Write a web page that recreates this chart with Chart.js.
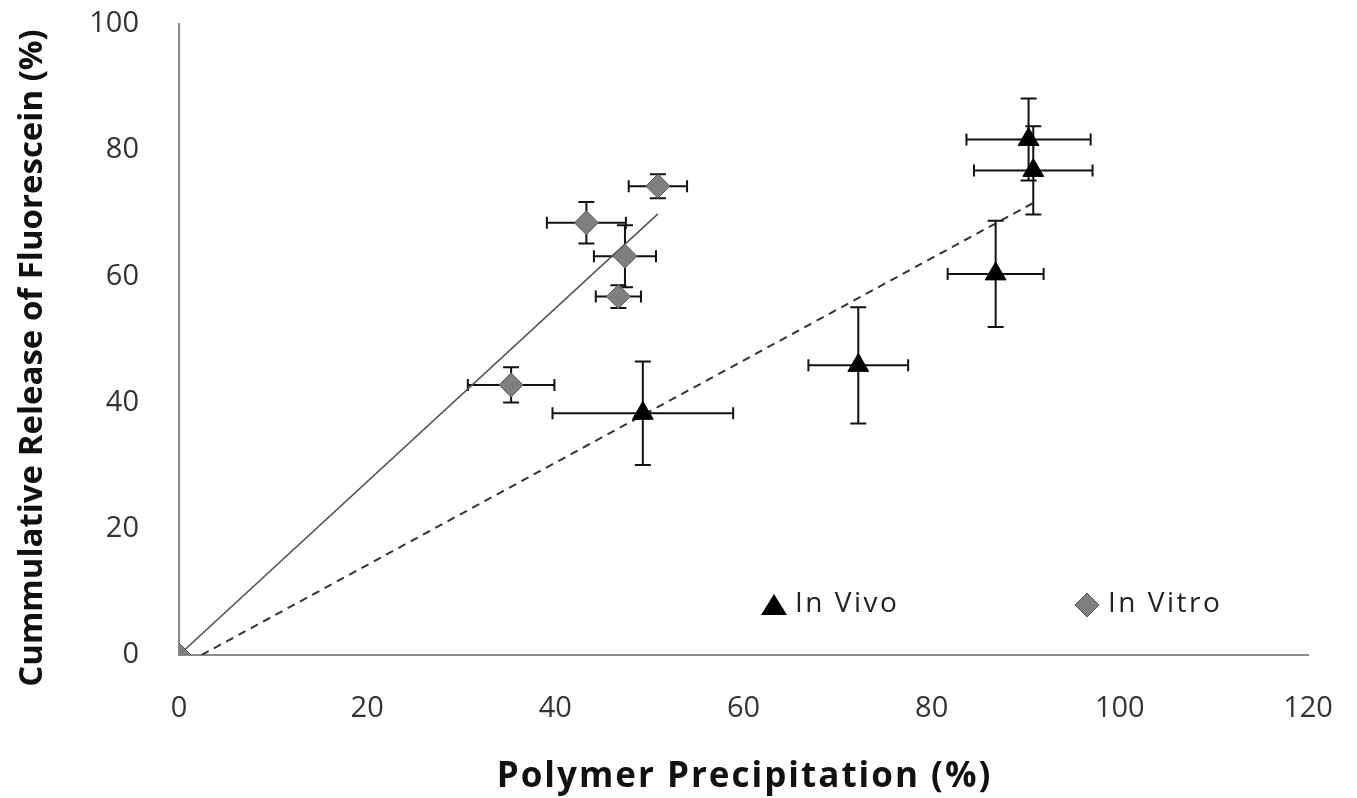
<!DOCTYPE html>
<html>
<head>
<meta charset="utf-8">
<script src="https://cdn.jsdelivr.net/npm/chart.js@4/dist/chart.umd.min.js"></script>
<style>
html,body{margin:0;padding:0;background:#fff;}
#wrap{width:1357px;height:798px;position:relative;}
</style>
</head>
<body>
<div id="wrap"><canvas id="c" width="1357" height="798"></canvas></div>
<script>
// ---- data ----
const xTicks = [0, 20, 40, 60, 80, 100, 120];
const yTicks = [0, 20, 40, 60, 80, 100];

const vivoX    = [0, 49.3, 72.2, 86.8, 90.8, 90.3];
const vivoY    = [0, 38.3, 45.9, 60.4, 76.8, 81.7];
const vivoXErr = [0, 9.6, 5.3, 5.1, 6.3, 6.6];
const vivoYErr = [0, 8.2, 9.2, 8.4, 7.0, 6.5];

const vitroX    = [0, 35.3, 46.7, 47.4, 43.3, 50.9];
const vitroY    = [0, 42.8, 56.8, 63.2, 68.5, 74.3];
const vitroXErr = [0, 4.6, 2.4, 3.3, 4.2, 3.1];
const vitroYErr = [0, 2.8, 1.8, 4.9, 3.3, 1.9];

const vitroTrendX = [0, 50.9];
const vitroTrendY = [0, 69.9];
const vivoTrendX  = [2.4, 91.0];
const vivoTrendY  = [0, 71.8];

const seriesNames = ['In Vivo', 'In Vitro'];
const xTitle = 'Polymer Precipitation (%)';
const yTitle = 'Cummulative Release of Fluorescein (%)';

const zip = (xs, ys) => xs.map((x, i) => ({x: x, y: ys[i]}));

const FONT = "'Open Sans', 'DejaVu Sans', sans-serif";

const errorBarPlugin = {
  id: 'errorBars',
  beforeDatasetsDraw(chart) {
    const ctx = chart.ctx;
    const xs = chart.scales.x, ys = chart.scales.y;
    const sets = [[vivoX, vivoY, vivoXErr, vivoYErr], [vitroX, vitroY, vitroXErr, vitroYErr]];
    ctx.save();
    ctx.strokeStyle = '#111';
    ctx.lineWidth = 2;
    const capV = 8, capH = 6;
    sets.forEach(([X, Y, XE, YE]) => {
      X.forEach((xv, i) => {
        const px = xs.getPixelForValue(xv), py = ys.getPixelForValue(Y[i]);
        if (YE[i] > 0) {
          const t = ys.getPixelForValue(Y[i] + YE[i]), b = ys.getPixelForValue(Y[i] - YE[i]);
          ctx.beginPath();
          ctx.moveTo(px, t); ctx.lineTo(px, b);
          ctx.moveTo(px - capV, t); ctx.lineTo(px + capV, t);
          ctx.moveTo(px - capV, b); ctx.lineTo(px + capV, b);
          ctx.stroke();
        }
        if (XE[i] > 0) {
          const l = xs.getPixelForValue(xv - XE[i]), r = xs.getPixelForValue(xv + XE[i]);
          ctx.beginPath();
          ctx.moveTo(l, py); ctx.lineTo(r, py);
          ctx.moveTo(l, py - capH); ctx.lineTo(l, py + capH);
          ctx.moveTo(r, py - capH); ctx.lineTo(r, py + capH);
          ctx.stroke();
        }
      });
    });
    ctx.restore();
  }
};

const titlesAndLegendPlugin = {
  id: 'titlesAndLegend',
  afterDraw(chart) {
    const ctx = chart.ctx;
    const area = chart.chartArea;
    ctx.save();
    // axis titles
    ctx.fillStyle = '#111';
    ctx.textBaseline = 'alphabetic';
    ctx.textAlign = 'center';
    ctx.font = "bold 35px " + FONT;
    try { ctx.letterSpacing = '2px'; } catch (e) {}
    ctx.fillText(xTitle, (area.left + area.right) / 2 + 1, 787);
    ctx.save();
    ctx.font = "bold 33px " + FONT;
    try { ctx.letterSpacing = '0px'; } catch (e) {}
    ctx.translate(42, 358);
    ctx.rotate(-Math.PI / 2);
    ctx.fillText(yTitle, 0, 0);
    ctx.restore();

    // legend
    ctx.font = "28px " + FONT;
    try { ctx.letterSpacing = '2.5px'; } catch (e) {}
    ctx.textBaseline = 'middle';
    ctx.textAlign = 'left';
    const tx = 774, ty = 606;
    ctx.beginPath();
    ctx.moveTo(tx, ty - 12); ctx.lineTo(tx + 13, ty + 9); ctx.lineTo(tx - 13, ty + 9); ctx.closePath();
    ctx.fillStyle = '#000'; ctx.fill();
    ctx.fillStyle = '#222';
    ctx.fillText(seriesNames[0], 795, 604);
    const dx = 1087, dy = 605;
    ctx.beginPath();
    ctx.moveTo(dx, dy - 12); ctx.lineTo(dx + 12, dy); ctx.lineTo(dx, dy + 12); ctx.lineTo(dx - 12, dy); ctx.closePath();
    ctx.fillStyle = '#7f7f7f'; ctx.fill();
    ctx.strokeStyle = '#5a5a5a'; ctx.lineWidth = 1; ctx.stroke();
    ctx.fillStyle = '#222';
    ctx.fillText(seriesNames[1], 1108, 604);
    ctx.restore();
  }
};

new Chart(document.getElementById('c'), {
  type: 'scatter',
  data: {
    datasets: [
      {
        label: seriesNames[1],
        data: zip(vitroX, vitroY),
        pointStyle: 'rectRot',
        pointRadius: 12,
        pointHoverRadius: 12,
        backgroundColor: '#7f7f7f',
        borderColor: '#5a5a5a',
        borderWidth: 1
      },
      {
        label: seriesNames[0],
        data: zip(vivoX, vivoY),
        pointStyle: 'triangle',
        pointRadius: 12,
        pointHoverRadius: 12,
        backgroundColor: '#000',
        borderColor: '#000',
        borderWidth: 1
      },
      {
        label: 'vitro trend',
        data: zip(vitroTrendX, vitroTrendY),
        showLine: true,
        pointRadius: 0,
        borderColor: '#555',
        borderWidth: 1.6,
        fill: false
      },
      {
        label: 'vivo trend',
        data: zip(vivoTrendX, vivoTrendY),
        showLine: true,
        pointRadius: 0,
        borderColor: '#333',
        borderWidth: 2,
        borderDash: [8, 6],
        fill: false
      }
    ]
  },
  options: {
    responsive: false,
    animation: false,
    layout: { padding: { left: 0, right: 49, top: 24, bottom: 0 } },
    plugins: {
      legend: { display: false },
      tooltip: { enabled: false }
    },
    scales: {
      x: {
        type: 'linear',
        min: 0, max: 120,
        afterBuildTicks: (s) => { s.ticks = xTicks.map(v => ({value: v})); },
        afterFit: (s) => { s.height = 143; s.paddingLeft = 0; s.paddingRight = 0; },
        grid: { display: false, drawTicks: false },
        border: { display: true, color: '#8a8a8a', width: 2 },
        ticks: { padding: 36, color: '#333', font: { family: FONT, size: 29 }, maxRotation: 0 },
        title: { display: false }
      },
      y: {
        type: 'linear',
        min: 0, max: 100,
        afterBuildTicks: (s) => { s.ticks = yTicks.map(v => ({value: v})); },
        afterFit: (s) => { s.width = 179; s.paddingTop = 0; s.paddingBottom = 0; },
        grid: { display: false, drawTicks: false },
        border: { display: true, color: '#8a8a8a', width: 2 },
        ticks: { padding: 40, color: '#333', font: { family: FONT, size: 29 } },
        title: { display: false }
      }
    }
  },
  plugins: [errorBarPlugin, titlesAndLegendPlugin]
});
</script>
</body>
</html>
